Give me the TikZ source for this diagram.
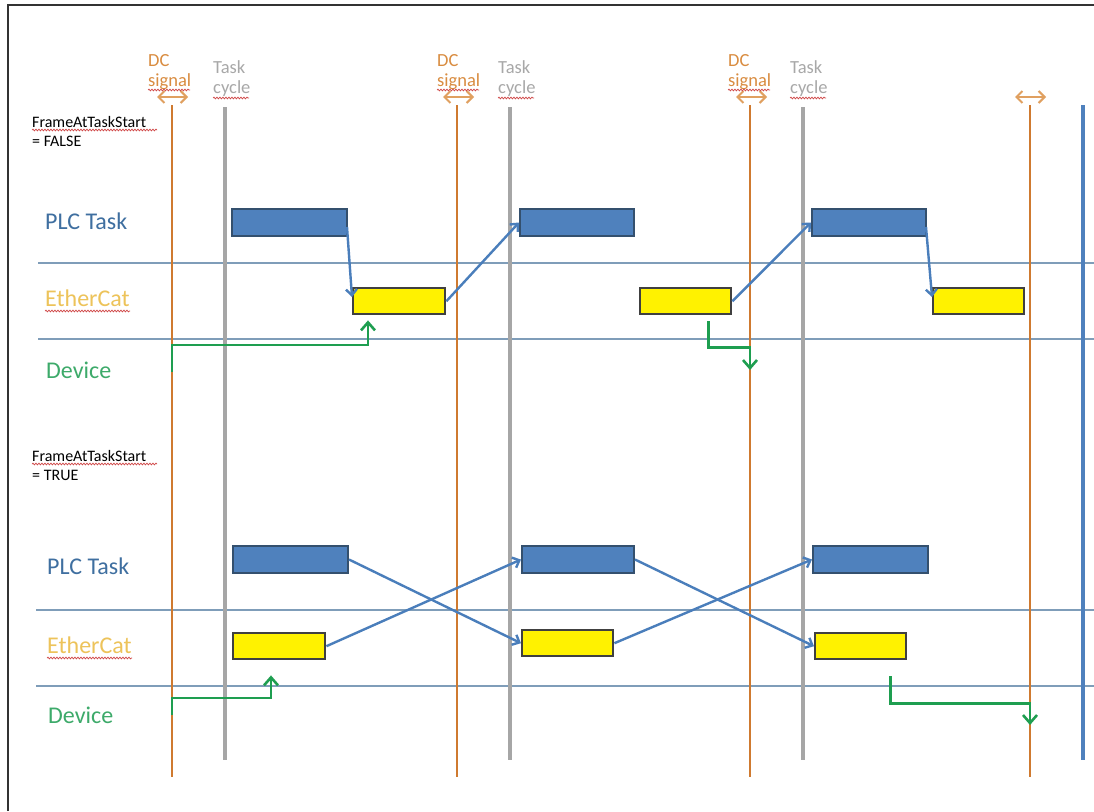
\documentclass[tikz,border=0pt]{standalone}
\usepackage{fontspec}
\setmainfont{Carlito}
\usetikzlibrary{arrows.meta,decorations.pathmorphing,calc}
\definecolor{orng}{HTML}{CF7A30}
\definecolor{orngtxt}{HTML}{D98C40}
\definecolor{orngarr}{HTML}{E0A060}
\definecolor{grayln}{HTML}{A6A6A6}
\definecolor{graytxt}{HTML}{A8A8A8}
\definecolor{hline}{HTML}{7F9DB9}
\definecolor{boxblue}{HTML}{4F81BD}
\definecolor{boxblueb}{HTML}{34506E}
\definecolor{arrblue}{HTML}{4A7EBB}
\definecolor{grn}{HTML}{1E9E50}
\definecolor{plctxt}{HTML}{3F6FA0}
\definecolor{ethtxt}{HTML}{EDC35A}
\definecolor{devtxt}{HTML}{3DAA6A}
\definecolor{squig}{HTML}{D04848}
\begin{document}
\begin{tikzpicture}[x=1pt,y=-1pt,
  bluebox/.style={draw=boxblueb, fill=boxblue, line width=2pt, rectangle, inner sep=0pt, anchor=north west, minimum height=27pt},
  yelbox/.style={draw=black!75, fill=yellow, line width=2.4pt, rectangle, inner sep=0pt, anchor=north west, minimum height=26pt},
  bluearr/.style={draw=arrblue, line width=2.4pt, -{Straight Barb[length=6pt,width=11pt]}},
  greenarr/.style={draw=grn, line width=2.6pt, -{Straight Barb[length=8pt,width=14pt]}},
  dcarr/.style={draw=orngarr, line width=2pt, {Straight Barb[length=6pt,width=12pt]}-{Straight Barb[length=6pt,width=12pt]}},
  lbl/.style={inner sep=0pt, anchor=base west},
  dctxt/.style={lbl, text=orngtxt, font=\fontsize{18.5}{20}\selectfont},
  tctxt/.style={lbl, text=graytxt, font=\fontsize{18.5}{20}\selectfont},
  fatxt/.style={lbl, text=black, font=\fontsize{16}{18}\selectfont},
  plc/.style={lbl, text=plctxt, font=\fontsize{24}{26}\selectfont},
  eth/.style={lbl, text=ethtxt, font=\fontsize{24}{26}\selectfont},
  dev/.style={lbl, text=devtxt, font=\fontsize{24}{26}\selectfont},
  squiggle/.style={draw=squig, line width=0.7pt, decorate, decoration={snake, amplitude=0.9pt, segment length=3pt}},
  vorange/.style={draw=orng, line width=2.6pt},
  vgray/.style={draw=grayln, line width=3.5pt},
  hln/.style={draw=hline, line width=1.4pt}
]
\useasboundingbox (0,0) rectangle (1094,811);
\fill[white] (0,0) rectangle (1094,811);
% frame
\draw[black!80, line width=1.6pt] (8,811) -- (8,5) -- (1094,5);

% horizontal lanes
\draw[hln] (38,263) -- (1094,263);
\draw[hln] (38,339) -- (1094,339);
\draw[hln] (36,610) -- (1094,610);
\draw[hln] (36,686) -- (1094,686);

% vertical lines
\foreach \x in {172,457,750,1030} \draw[vorange] (\x,105) -- (\x,777);
\foreach \x in {225,510,803} \draw[vgray] (\x,107) -- (\x,760);
\draw[draw=boxblue, line width=3.2pt] (1083,105) -- (1083,760);

% DC double arrows
\draw[dcarr] (157,97) -- (188,97);
\draw[dcarr] (443,97) -- (474,97);
\draw[dcarr] (736,97) -- (767,97);
\draw[dcarr] (1015,97) -- (1046,97);

% top labels
\node[dctxt] (dc1a) at (148,66) {DC};
\node[dctxt] (dc1b) at (148,86) {signal};
\node[tctxt] (tc1a) at (213,73) {Task};
\node[tctxt] (tc1b) at (213,93) {cycle};
\node[dctxt] (dc2a) at (437,66) {DC};
\node[dctxt] (dc2b) at (437,86) {signal};
\node[tctxt] (tc2a) at (498,73) {Task};
\node[tctxt] (tc2b) at (498,93) {cycle};
\node[dctxt] (dc3a) at (728,66) {DC};
\node[dctxt] (dc3b) at (728,86) {signal};
\node[tctxt] (tc3a) at (790,73) {Task};
\node[tctxt] (tc3b) at (790,93) {cycle};
\foreach \x in {148,437,728} \draw[squiggle] (\x,90) -- (\x+42,90);
\foreach \x in {213,498,790} \draw[squiggle] (\x,98) -- (\x+36,98);

% FrameAtTaskStart labels
\node[fatxt] (fa1) at (32,127) {FrameAtTaskStart};
\node[fatxt] (fa1b) at (32,146) {= FALSE};
\draw[squiggle] (32,130) -- (157,130);
\node[fatxt] (fa2) at (32,461) {FrameAtTaskStart};
\node[fatxt] (fa2b) at (32,480) {= TRUE};
\draw[squiggle] (32,464) -- (157,464);

% lane labels
\node[plc] (lplc1) at (45,229) {PLC Task};
\node[eth] (leth1) at (45,306) {EtherCat};
\draw[squiggle] (45,311) -- (130,311);
\node[dev] (ldev1) at (46,378) {Device};
\node[plc] (lplc2) at (47,574) {PLC Task};
\node[eth] (leth2) at (47,653) {EtherCat};
\draw[squiggle] (47,658) -- (132,658);
\node[dev] (ldev2) at (48,723) {Device};

% top boxes
\node[bluebox, minimum width=115pt] (p1) at (231,208) {};
\node[bluebox, minimum width=114pt] (p2) at (519,208) {};
\node[bluebox, minimum width=114pt] (p3) at (811,208) {};
\node[yelbox, minimum width=92pt] (e1) at (352,287) {};
\node[yelbox, minimum width=91pt] (e2) at (639,287) {};
\node[yelbox, minimum width=91pt] (e3) at (932,287) {};

% bottom boxes
\node[bluebox, minimum width=115pt] (p4) at (232,545) {};
\node[bluebox, minimum width=112pt] (p5) at (521,545) {};
\node[bluebox, minimum width=115pt] (p6) at (812,545) {};
\node[yelbox, minimum width=92pt] (e4) at (232,632) {};
\node[yelbox, minimum width=91pt] (e5) at (521,629) {};
\node[yelbox, minimum width=91pt] (e6) at (814,632) {};

% top blue arrows
\draw[bluearr] ([xshift=-1pt,yshift=10pt]p1.south east) -- ([yshift=-10pt]e1.north west);
\draw[bluearr] (e1.east) -- (p2.west);
\draw[bluearr] (e2.east) -- (p3.west);
\draw[bluearr] ([xshift=-1pt,yshift=10pt]p3.south east) -- ([yshift=-10pt]e3.north west);

% bottom blue arrows
\draw[bluearr] (p4.east) -- (e5.west);
\draw[bluearr] (e4.east) -- (p5.west);
\draw[bluearr] (p5.east) -- (e6.west);
\draw[bluearr] (e5.east) -- (p6.west);

% green arrows
\coordinate (g1s) at (172,372);
\draw[greenarr] (g1s) -- (172,345) -| ([xshift=16pt,yshift=-5pt]e1.south west);
\coordinate (g2e) at (750,370);
\draw[greenarr] ([xshift=-24pt,yshift=-6pt]e2.south east) -- ++(0,26) -| (g2e);
\coordinate (g3s) at (172,715);
\draw[greenarr] (g3s) -- (172,698) -| ([xshift=39pt,yshift=-15pt]e4.south west);
\coordinate (g4e) at (1030,725);
\draw[greenarr] ([xshift=-17pt,yshift=-16pt]e6.south east) -- ++(0,27) -| (g4e);
\end{tikzpicture}
\end{document}
